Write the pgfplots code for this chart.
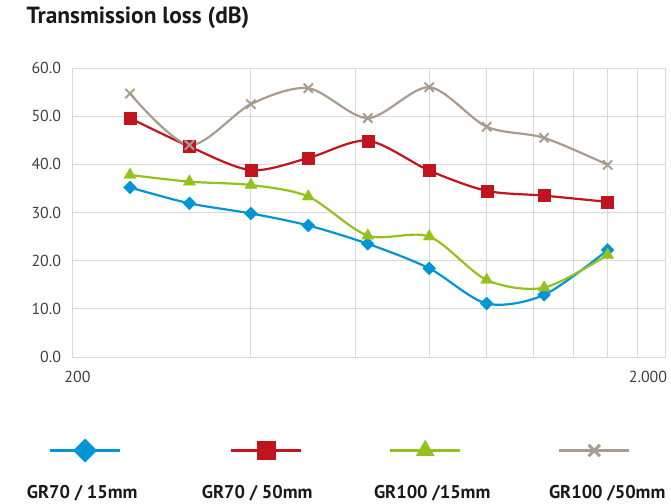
\documentclass[border=0pt]{standalone}
\usepackage{fontspec}
\setmainfont{PT Sans}
\usepackage{pgfplots}
\pgfplotsset{compat=1.18}
\definecolor{cblue}{HTML}{0096D6}
\definecolor{cred}{HTML}{C0141E}
\definecolor{cgreen}{HTML}{95C11F}
\definecolor{cgray}{HTML}{A89C8E}
\definecolor{gridc}{HTML}{D9D9D9}
\definecolor{txt}{HTML}{404040}
\pgfplotsset{
  legimg/.style n args={3}{legend image code/.code={
    \draw[overlay,##1,line width=3bp,mark repeat=2,mark phase=2,mark size=#2,
      mark options={#3}]
      plot coordinates {(60bp+#1-35bp,42bp) (60bp+#1,42bp) (60bp+#1+35bp,42bp)};}}
}
\begin{document}
\begin{tikzpicture}
\begin{axis}[
  name=ax,
  scale only axis,
  width=592.5bp, height=289bp,
  xmode=log, xmin=200, xmax=2000, ymin=0, ymax=60,
  ytick={0,10,...,60},
  xtick={200}, xticklabels={200},
  extra x ticks={2000}, extra x tick labels={2.000},
  extra x tick style={xticklabel style={xshift=-22bp}},
  minor xtick={400,600,800,1000,1200,1400,1600,1800},
  xminorgrids=true, xmajorgrids=false, ymajorgrids=true,
  grid style={gridc, line width=0.9pt},
  minor grid style={gridc, line width=0.9pt},
  axis line style={gridc, line width=0.9pt},
  major tick length=0pt, minor tick length=0pt,
  tick label style={txt, font=\fontsize{16}{19}\selectfont},
  /pgf/number format/assume math mode=true,
  yticklabel style={/pgf/number format/fixed, /pgf/number format/fixed zerofill, /pgf/number format/precision=1, xshift=-8bp},
  xticklabel style={yshift=-11bp, xshift=5bp},
  title={Transmission loss (dB)},
  title style={at={(0,1)}, anchor=south west, xshift=-46bp, yshift=33bp,
    inner sep=0pt, font=\bfseries\fontsize{23.5}{27}\selectfont, text=black!90},
  legend columns=4,
  legend cell align=center,
  legend style={at={(0,0)}, anchor=north west, xshift=-50.5bp, yshift=-128bp,
    draw=none, fill=none, inner sep=0pt, column sep=0pt,
    /tikz/every even column/.append style={column sep=55bp},
    nodes={inner sep=0pt, font=\bfseries\fontsize{18.5}{21}\selectfont, text=black!90}},
  clip=false,
]
\addplot[cblue, line width=2.2bp, smooth, mark=square*,
  mark options={rotate=45, line width=0.3pt}, mark size=4.6bp,
  legimg={3bp}{8.3bp}{rotate=45, line width=0.3pt}]
  coordinates {(250,35.2)(315,31.9)(400,29.8)(500,27.3)(630,23.5)(800,18.4)(1000,11.1)(1250,12.9)(1600,22.2)};
\addlegendentry{\makebox[120bp]{GR70 / 15mm}}
\addplot[cred, line width=2.2bp, smooth, mark=square*,
  mark options={line width=0.3pt}, mark size=6bp,
  legimg={9bp}{9bp}{line width=0.3pt}]
  coordinates {(250,49.6)(315,43.7)(400,38.8)(500,41.3)(630,44.9)(800,38.7)(1000,34.5)(1250,33.5)(1600,32.2)};
\addlegendentry{\makebox[120bp]{GR70 / 50mm}}
\addplot[cgreen, line width=2.2bp, smooth, mark=triangle*,
  mark options={line width=0.3pt}, mark size=7bp,
  legimg={-7bp}{10.5bp}{line width=0.3pt}]
  coordinates {(250,37.8)(315,36.4)(400,35.7)(500,33.3)(630,25.2)(800,25.0)(1000,16.0)(1250,14.4)(1600,21.2)};
\addlegendentry{\makebox[120bp]{GR100 /15mm}}
\addplot[cgray, line width=2.2bp, smooth, mark=x,
  mark options={line width=2bp}, mark size=6.5bp,
  legimg={-13bp}{8bp}{line width=3bp}]
  coordinates {(250,54.7)(315,44.0)(400,52.5)(500,55.8)(630,49.6)(800,56.0)(1000,47.8)(1250,45.5)(1600,39.9)};
\addlegendentry{\makebox[120bp]{GR100 /50mm}}
\end{axis}
\pgfresetboundingbox
\useasboundingbox ([xshift=-72.5bp,yshift=-147bp]ax.south west) rectangle ([xshift=6bp,yshift=68bp]ax.north east);
\end{tikzpicture}
\end{document}
